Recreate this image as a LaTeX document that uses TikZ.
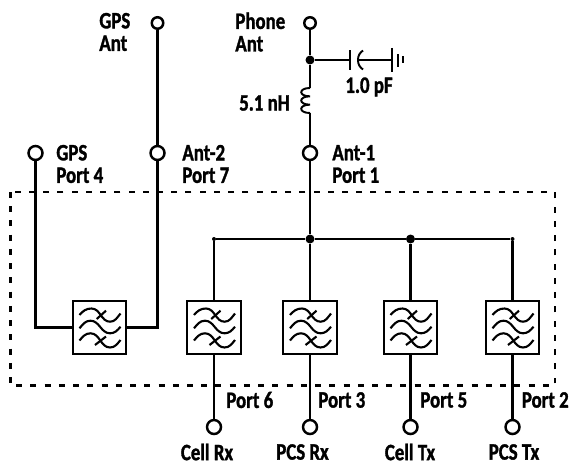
\documentclass[tikz,border=0pt]{standalone}
\usepackage{fontspec}
\newfontfamily\labelfont[FakeStretch=0.8,FakeBold=1.3]{Carlito Bold}
\tikzset{
  wire/.style={line width=1.55pt},
  thinwire/.style={line width=1.1pt},
  portbig/.style={circle,draw,line width=1.4pt,fill=white,inner sep=0pt,minimum size=0.28cm},
  portsmall/.style={circle,draw,line width=1.4pt,fill=white,inner sep=0pt,minimum size=0.23cm},
  junction/.style={circle,fill=black,inner sep=0pt,minimum size=0.18cm},
  busend/.style={circle,fill=black,inner sep=0pt,minimum size=0.08cm},
  filterbox/.style={rectangle,draw,line width=1.4pt,fill=white,inner sep=0pt,minimum size=1.07cm},
  lbl/.style={font=\labelfont\fontsize{13.4}{12.8}\selectfont,inner sep=0pt,align=left,text=black},
  filterwaves/.pic={
    \draw[line width=1.2pt] (-20,12.5) to [out=50,in=180] (-8,19) to [out=0,in=180] (10.5,5.8) to [out=0,in=230] (21,14);
    \draw[line width=1.2pt] (-20,-0.8) to [out=50,in=180] (-9,6.8) to [out=0,in=180] (10.5,-5.8) to [out=0,in=230] (21,0.8);
    \draw[line width=1.2pt] (-20,-13) to [out=50,in=180] (-9,-5.8) to [out=0,in=180] (10.5,-20) to [out=0,in=230] (21,-12.5);
    \draw[line width=1.2pt] (6.5,16.8) -- (-2.8,8.5);
    \draw[line width=1.2pt] (-4.5,-17.5) -- (6.5,-9);
  }
}
\begin{document}
\begin{tikzpicture}[x=0.02cm,y=0.02cm]
\useasboundingbox (0,0) rectangle (570,464);

% Package outline
\draw [line width=1.35pt,dash pattern=on 3.4pt off 4.7pt] (10.5,272) rectangle (555,78.5);

% Terminals
\node [portsmall] (gpsant) at (157.5,441) {};
\node [portsmall] (phoneant) at (310,441) {};
\node [portbig] (gpsport) at (35.5,311) {};
\node [portbig] (anttwo) at (157.5,311) {};
\node [portbig] (antone) at (310,311) {};
\node [portbig] (cellrx) at (214,37) {};
\node [portbig] (pcsrx) at (310,37) {};
\node [portbig] (celltx) at (410.5,37) {};
\node [portbig] (pcstx) at (512.5,37) {};

% Filters
\node [filterbox] (filtgps) at (99.5,136.5) {};
\node [filterbox] (filtcellrx) at (214,136.5) {};
\node [filterbox] (filtpcsrx) at (310,136.5) {};
\node [filterbox] (filtcelltx) at (410.5,136.5) {};
\node [filterbox] (filtpcstx) at (512.5,136.5) {};
\pic at (filtgps) {filterwaves};
\pic at (filtcellrx) {filterwaves};
\pic at (filtpcsrx) {filterwaves};
\pic at (filtcelltx) {filterwaves};
\pic at (filtpcstx) {filterwaves};

% Bus
\node [busend] (busleft) at (214,225) {};
\node [junction] (busmid) at (310,225) {};
\node [junction] (busnext) at (410.5,225) {};
\node [busend] (busright) at (512.5,225) {};
\draw [line width=1.3pt] (busleft) -- (busmid) -- (busnext) -- (busright);

% GPS side
\draw [wire] (gpsant) -- (anttwo);
\draw [wire] (gpsport) |- (filtgps);
\draw [wire] (anttwo) |- (filtgps);

% Filter leads
\draw [wire] (busleft) -- (filtcellrx);
\draw [wire] (busmid) -- (filtpcsrx);
\draw [wire] (busnext) -- (filtcelltx);
\draw [wire] (busright) -- (filtpcstx);
\draw [wire] (filtcellrx) -- (cellrx);
\draw [wire] (filtpcsrx) -- (pcsrx);
\draw [wire] (filtcelltx) -- (celltx);
\draw [wire] (filtpcstx) -- (pcstx);

% Phone antenna branch
\node [junction] (phonejct) at (310,404) {};
\coordinate (coiltop) at (310,376);
\coordinate (coilbot) at (310,351);
\draw [wire] (phoneant) -- (phonejct);
\draw [wire] (phonejct) -- (coiltop);
\draw [wire] (coilbot) -- (antone);
\draw [wire] (antone) -- (busmid);
\draw [thinwire] (coiltop) to [out=180,in=180,looseness=3.6] ++(0,-8.33)
  to [out=180,in=180,looseness=3.6] ++(0,-8.33)
  to [out=180,in=180,looseness=3.6] (coilbot);

% Capacitor and ground
\coordinate (capleft) at (350,404);
\coordinate (capright) at (358,404);
\coordinate (gndplate) at (392,404);
\draw [thinwire] (phonejct) -- (capleft);
\draw [thinwire] (350,413.5) -- (350,394.5);
\draw [thinwire] (363,413.5) to [out=215,in=90] (capright) to [out=270,in=145] (363,394.5);
\draw [thinwire] (capright) -- (gndplate);
\draw [thinwire] (392,416) -- (392,392);
\draw [thinwire] (397.7,410) -- (397.7,397);
\draw [thinwire] (403,408) -- (403,401);

% Labels
\node [lbl,anchor=west] (lblgpsant) at (99,432) {GPS\\Ant};
\node [lbl,anchor=west] (lblphone) at (235,432) {Phone\\Ant};
\node [lbl,anchor=east] (lblcoil) at (290,361) {5.1 nH};
\node [lbl] (lblcap) at (369,377) {1.0 pF};
\node [lbl,anchor=west] (lblgpsport) at (56,300) {GPS\\Port 4};
\node [lbl,anchor=west] (lblanttwo) at (182,300) {Ant-2\\Port 7};
\node [lbl,anchor=west] (lblantone) at (332,300) {Ant-1\\Port 1};
\node [lbl,anchor=west] (lblportsix) at (226,64) {Port 6};
\node [lbl,anchor=west] (lblportthree) at (318,64) {Port 3};
\node [lbl,anchor=west] (lblportfive) at (420,64) {Port 5};
\node [lbl,anchor=west] (lblporttwo) at (521.5,64) {Port 2};
\node [lbl] (lblcellrx) at (207,12) {Cell Rx};
\node [lbl] (lblpcsrx) at (302.5,12) {PCS Rx};
\node [lbl] (lblcelltx) at (410,12) {Cell Tx};
\node [lbl] (lblpcstx) at (514,12) {PCS Tx};
\end{tikzpicture}
\end{document}
